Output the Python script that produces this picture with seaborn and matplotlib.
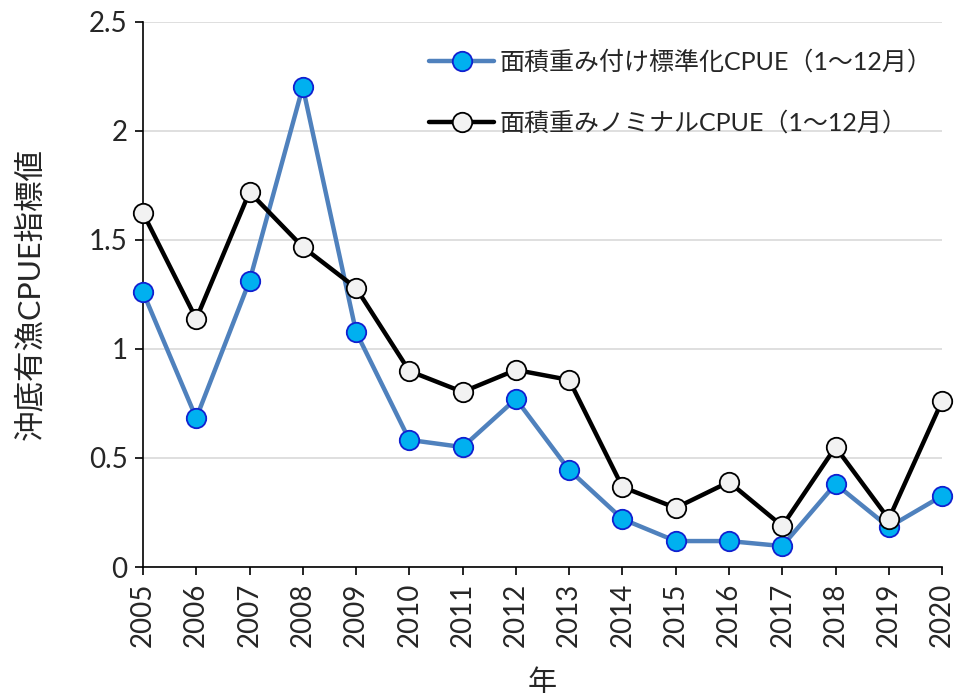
import matplotlib
matplotlib.use("Agg")
import matplotlib.pyplot as plt
import seaborn as sns
import pandas as pd

years = list(range(2005, 2021))
standardized = [1.261, 0.683, 1.312, 2.202, 1.078, 0.583, 0.550, 0.771,
                0.445, 0.220, 0.119, 0.119, 0.096, 0.381, 0.183, 0.326]
nominal = [1.624, 1.138, 1.720, 1.468, 1.280, 0.899, 0.803, 0.904,
           0.858, 0.367, 0.271, 0.390, 0.188, 0.550, 0.220, 0.761]
label_std = "面積重み付け標準化CPUE（1～12月）"
label_nom = "面積重みノミナルCPUE（1～12月）"
xlabel = "年"
ylabel = "沖底有漁CPUE指標値"
yticks = [0, 0.5, 1, 1.5, 2, 2.5]
ytick_labels = ["0", "0.5", "1", "1.5", "2", "2.5"]

sns.set_theme(style="white")
plt.rcParams['font.family'] = ['Lato', 'Noto Sans CJK JP', 'DejaVu Sans']

fig = plt.figure(figsize=(9.57, 7.0), dpi=100)
ax = fig.add_axes([0.1494, 0.19, 0.835, 0.7786])

df_std = pd.DataFrame({"year": years, "value": standardized})
df_nom = pd.DataFrame({"year": years, "value": nominal})

sns.lineplot(data=df_std, x="year", y="value", ax=ax, color="#4F81BD",
             linewidth=3.2, marker="o", markersize=14,
             markerfacecolor="#00B0F0", markeredgecolor="#1020D0",
             markeredgewidth=1.3, label=label_std, zorder=3, clip_on=False)
sns.lineplot(data=df_nom, x="year", y="value", ax=ax, color="black",
             linewidth=3.2, marker="o", markersize=14,
             markerfacecolor="#F2F2F2", markeredgecolor="black",
             markeredgewidth=1.3, label=label_nom, zorder=4, clip_on=False)

ax.set_xlim(2005, 2020)
ax.set_ylim(0, 2.5)
ax.set_xticks(years)
ax.set_xticklabels([str(y) for y in years], rotation=90, fontsize=20)
ax.set_yticks(yticks)
ax.set_yticklabels(ytick_labels, fontsize=20)
ax.yaxis.grid(True, color="#D9D9D9", linewidth=1.2)
ax.xaxis.grid(False)
ax.set_axisbelow(True)
for s in ["top", "right"]:
    ax.spines[s].set_visible(False)
for s in ["left", "bottom"]:
    ax.spines[s].set_color("black")
    ax.spines[s].set_linewidth(1.2)
ax.tick_params(axis="both", direction="out", length=6, width=1.2,
               color="black", bottom=True, left=True, pad=5)
ax.set_xlabel(xlabel, fontsize=21, labelpad=16)
ax.set_ylabel(ylabel, fontsize=22, labelpad=32)

leg = ax.legend(loc="upper right", bbox_to_anchor=(1.016, 0.99), frameon=False,
                fontsize=18, handlelength=2.6, labelspacing=1.5,
                handletextpad=0.2)

fig.savefig("out.png", dpi=100)
